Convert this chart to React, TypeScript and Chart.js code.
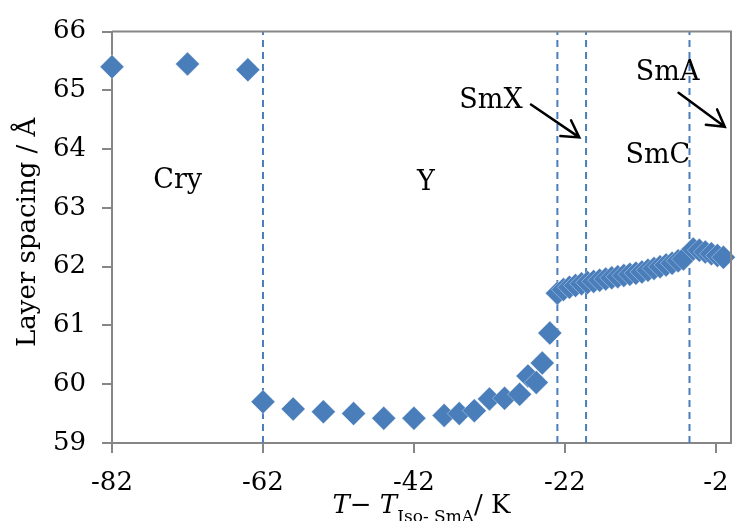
import React, { useEffect, useRef } from "react";
import { Chart, registerables } from "chart.js";

Chart.register(...registerables);

// ---- data ----
const layerT = [
  -82, -72, -64,
  -62, -58, -54, -50, -46, -42, -38, -36, -34, -32, -30, -28, -26.9, -25.8, -25, -24,
  -23.0, -22.2, -21.4, -20.6, -19.8, -19.0, -18.2, -17.4, -16.6, -15.8, -15.0, -14.2,
  -13.4, -12.6, -11.8, -11.0, -10.2, -9.4, -8.6, -7.8, -7.0, -6.3,
  -5.0, -4.2, -3.4, -2.6, -1.8, -1.0,
];
const layerD = [
  65.40, 65.45, 65.35,
  59.70, 59.58, 59.53, 59.50, 59.42, 59.42, 59.47, 59.50, 59.55, 59.75, 59.76, 59.83, 60.14, 60.03, 60.36, 60.87,
  61.55, 61.61, 61.65, 61.68, 61.71, 61.73, 61.75, 61.77, 61.79, 61.81, 61.83, 61.85,
  61.87, 61.89, 61.91, 61.94, 61.97, 62.00, 62.03, 62.06, 62.10, 62.13,
  62.30, 62.28, 62.25, 62.22, 62.19, 62.16,
];

const transitionT = [-62, -23.0, -19.2, -5.5];

const xMin = -82;
const xMax = 0;
const yMin = 59;
const yMax = 66;
const xTickValues = [-82, -62, -42, -22, -2];
const xTickLabels = ["-82", "-62", "-42", "-22", "-2"];
const yTickValues = [59, 60, 61, 62, 63, 64, 65, 66];
const yTickLabels = ["59", "60", "61", "62", "63", "64", "65", "66"];

const phaseLabels = ["Cry", "Y", "SmX", "SmC", "SmA"];
const phaseLabelT = [-73.3, -40.4, -31.8, -9.7, -8.4];
const phaseLabelD = [63.34, 63.31, 64.70, 63.76, 65.18];

const arrowFromT = [-26.5, -6.95];
const arrowFromD = [64.76, 64.96];
const arrowToT = [-20.1, -0.83];
const arrowToD = [64.20, 64.38];

const yTitle = "Layer spacing / Å";
const xTitleParts = ["T", "− ", "T", "Iso- SmA", "/ K"];

// ---- styles ----
const BLUE = "#4A7EBB";
const AXIS = "#868686";
const FONT = '"DejaVu Serif"';

const decorPlugin = {
  id: "decor",
  afterDraw(chart: any) {
    const { ctx, chartArea, scales } = chart;
    const xs = scales.x;
    const ys = scales.y;
    ctx.save();
    // frame top & right
    ctx.strokeStyle = AXIS;
    ctx.lineWidth = 2;
    ctx.beginPath();
    ctx.moveTo(chartArea.left, chartArea.top);
    ctx.lineTo(chartArea.right, chartArea.top);
    ctx.lineTo(chartArea.right, chartArea.bottom);
    ctx.stroke();

    // phase labels
    ctx.fillStyle = "#000";
    ctx.textAlign = "center";
    ctx.textBaseline = "alphabetic";
    ctx.font = `27px ${FONT}`;
    phaseLabels.forEach((t, i) => {
      ctx.fillText(t, xs.getPixelForValue(phaseLabelT[i]), ys.getPixelForValue(phaseLabelD[i]));
    });

    // arrows
    ctx.strokeStyle = "#000";
    ctx.lineWidth = 2.5;
    ctx.lineCap = "round";
    arrowFromT.forEach((_, i) => {
      const x0 = xs.getPixelForValue(arrowFromT[i]);
      const y0 = ys.getPixelForValue(arrowFromD[i]);
      const x1 = xs.getPixelForValue(arrowToT[i]);
      const y1 = ys.getPixelForValue(arrowToD[i]);
      const a = Math.atan2(y1 - y0, x1 - x0);
      const L = 19;
      const w = Math.PI / 6;
      ctx.beginPath();
      ctx.moveTo(x0, y0);
      ctx.lineTo(x1, y1);
      ctx.moveTo(x1 - L * Math.cos(a - w), y1 - L * Math.sin(a - w));
      ctx.lineTo(x1, y1);
      ctx.lineTo(x1 - L * Math.cos(a + w), y1 - L * Math.sin(a + w));
      ctx.stroke();
    });

    // y title
    ctx.save();
    ctx.translate(35, (chartArea.top + chartArea.bottom) / 2 - 5);
    ctx.rotate(-Math.PI / 2);
    ctx.font = `26px ${FONT}`;
    ctx.textAlign = "center";
    ctx.textBaseline = "alphabetic";
    ctx.fillText(yTitle, 0, 0);
    ctx.restore();

    // x title
    const fonts = [
      `italic 26px ${FONT}`,
      `26px ${FONT}`,
      `italic 26px ${FONT}`,
      `17px ${FONT}`,
      `26px ${FONT}`,
    ];
    const dys = [0, 0, 0, 9, 0];
    let total = 0;
    const widths = xTitleParts.map((p, i) => {
      ctx.font = fonts[i];
      const w = ctx.measureText(p).width;
      total += w;
      return w;
    });
    let x = (chartArea.left + chartArea.right) / 2 - total / 2;
    const base = 513;
    ctx.textAlign = "left";
    xTitleParts.forEach((p, i) => {
      ctx.font = fonts[i];
      ctx.fillText(p, x, base + dys[i]);
      x += widths[i];
    });
    ctx.restore();
  },
};

export default function App() {
  const ref = useRef<HTMLCanvasElement | null>(null);
  useEffect(() => {
    if (!ref.current) return;
    const lineSets = transitionT.map((t) => ({
      type: "line" as const,
      data: [
        { x: t, y: yMin },
        { x: t, y: yMax },
      ],
      borderColor: BLUE,
      borderWidth: 2,
      borderDash: [7, 5],
      pointRadius: 0,
      fill: false,
      order: 2,
      clip: false as any,
    }));
    const chart = new Chart(ref.current, {
      type: "scatter",
      data: {
        datasets: [
          {
            type: "scatter" as const,
            data: layerT.map((t, i) => ({ x: t, y: layerD[i] })),
            pointStyle: "rectRot",
            pointRadius: 12,
            backgroundColor: BLUE,
            borderColor: "rgba(255,255,255,0.35)",
            borderWidth: 1,
            order: 0,
            clip: false as any,
          },
          ...lineSets,
        ] as any,
      },
      options: {
        responsive: false,
        animation: false,
        devicePixelRatio: 1,
        layout: { padding: { top: 24, right: 3, left: 0, bottom: 0 } },
        plugins: {
          legend: { display: false },
          tooltip: { enabled: false },
        },
        scales: {
          x: {
            type: "linear",
            min: xMin,
            max: xMax,
            afterBuildTicks: (s: any) => {
              s.ticks = xTickValues.map((v) => ({ value: v }));
            },
            afterFit: (s: any) => {
              s.height = 78;
            },
            ticks: {
              autoSkip: false,
              maxRotation: 0,
              padding: 15,
              color: "#000",
              font: { family: FONT, size: 26 },
              callback: (v: any) => {
                const i = xTickValues.indexOf(Number(v));
                return i >= 0 ? xTickLabels[i] : "";
              },
            },
            grid: {
              drawOnChartArea: false,
              drawTicks: true,
              tickLength: 10,
              color: AXIS,
              lineWidth: 2,
            },
            border: { color: AXIS, width: 2 },
          },
          y: {
            type: "linear",
            min: yMin,
            max: yMax,
            afterBuildTicks: (s: any) => {
              s.ticks = yTickValues.map((v) => ({ value: v }));
            },
            afterFit: (s: any) => {
              s.width = 112;
            },
            ticks: {
              padding: 16,
              color: "#000",
              font: { family: FONT, size: 26 },
              callback: (v: any) => {
                const i = yTickValues.indexOf(Number(v));
                return i >= 0 ? yTickLabels[i] : "";
              },
            },
            grid: {
              drawOnChartArea: false,
              drawTicks: true,
              tickLength: 10,
              color: AXIS,
              lineWidth: 2,
            },
            border: { color: AXIS, width: 2 },
          },
        },
      } as any,
      plugins: [decorPlugin],
    });
    return () => chart.destroy();
  }, []);
  return (
    <div style={{ position: "fixed", left: 0, top: 0, width: 744, height: 521, background: "#fff" }}>
      <canvas ref={ref} width={744} height={521} style={{ display: "block" }} />
    </div>
  );
}
